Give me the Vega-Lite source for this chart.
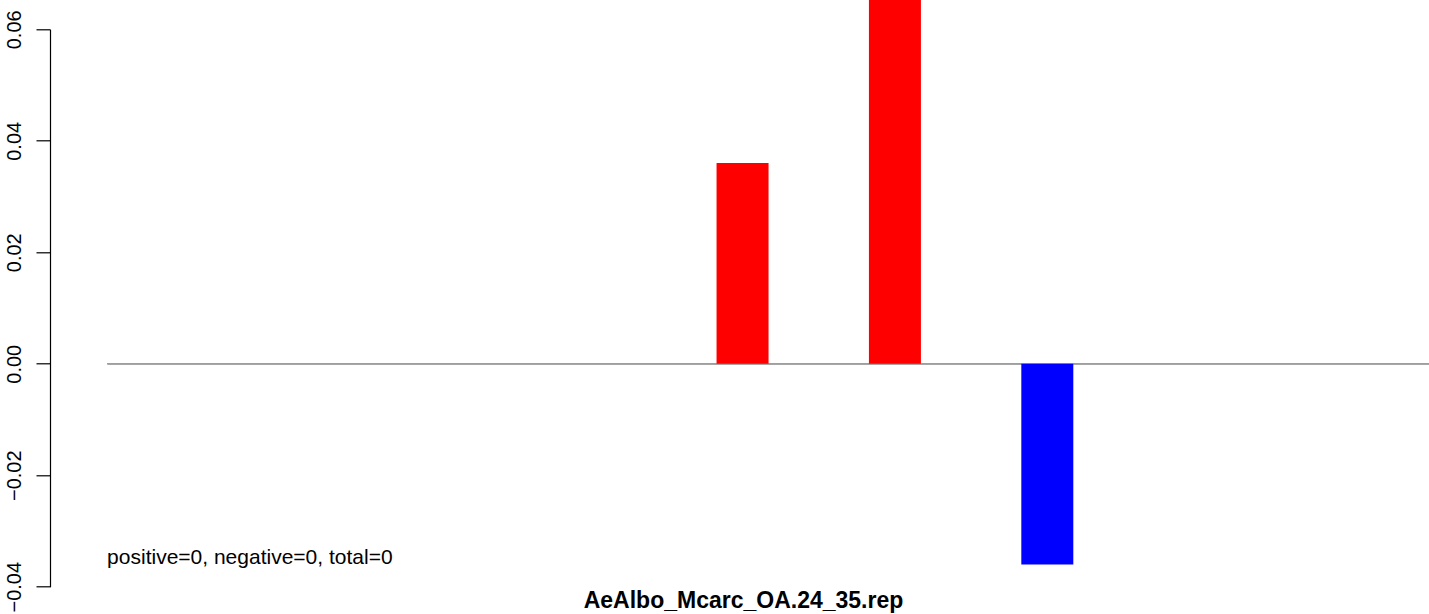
{
  "$schema": "https://vega.github.io/schema/vega-lite/v6.json",
  "autosize": {"type": "none"},
  "padding": {"left": 50, "top": 29.3, "right": 0, "bottom": 27.3},
  "width": 1379,
  "height": 557.4,
  "background": "white",
  "config": {
    "view": {"stroke": null},
    "font": "Liberation Sans"
  },
  "datasets": {
    "bars": [
      {"bar": 1, "value": 0},
      {"bar": 2, "value": 0},
      {"bar": 3, "value": 0},
      {"bar": 4, "value": 0},
      {"bar": 5, "value": 0.036},
      {"bar": 6, "value": 0.072},
      {"bar": 7, "value": -0.036},
      {"bar": 8, "value": 0},
      {"bar": 9, "value": 0}
    ],
    "note": [
      {"label": "positive=0, negative=0, total=0", "x": 0.83, "y": -0.0348}
    ]
  },
  "layer": [
    {
      "data": {"name": "bars"},
      "mark": {"type": "rule", "color": "#9e9e9e", "strokeWidth": 1.2},
      "encoding": {
        "x": {"datum": 0.833, "type": "quantitative"},
        "x2": {"datum": 10},
        "y": {"datum": 0, "type": "quantitative"}
      }
    },
    {
      "data": {"name": "bars"},
      "mark": {"type": "bar", "width": 52},
      "encoding": {
        "x": {
          "field": "bar",
          "type": "quantitative",
          "scale": {"domain": [0.488, 9.472], "nice": false, "zero": false},
          "axis": {
            "title": "AeAlbo_Mcarc_OA.24_35.rep",
            "titleFontSize": 23,
            "titleFontWeight": "bold",
            "titleColor": "black",
            "titleFont": "Liberation Sans",
            "titleX": 693,
            "titleY": 21,
            "titleBaseline": "alphabetic",
            "domain": false,
            "ticks": false,
            "labels": false,
            "grid": false
          }
        },
        "y": {
          "field": "value",
          "type": "quantitative",
          "scale": {"domain": [-0.04, 0.06], "nice": false, "zero": false},
          "axis": {
            "title": null,
            "values": [-0.04, -0.02, 0, 0.02, 0.04, 0.06],
            "format": ".2f",
            "grid": false,
            "domainColor": "black",
            "domainWidth": 1.2,
            "tickColor": "black",
            "tickWidth": 1.2,
            "tickSize": 14,
            "labelAngle": -90,
            "labelAlign": "center",
            "labelBaseline": "alphabetic",
            "labelPadding": 16,
            "labelFontSize": 20,
            "labelColor": "black",
            "labelFont": "Liberation Sans"
          }
        },
        "color": {
          "condition": {"test": "datum.value > 0", "value": "#ff0000"},
          "value": "#0000ff"
        }
      }
    },
    {
      "data": {"name": "note"},
      "mark": {"type": "text", "align": "left", "baseline": "middle", "fontSize": 21, "color": "black", "font": "Liberation Sans"},
      "encoding": {
        "x": {"field": "x", "type": "quantitative"},
        "y": {"field": "y", "type": "quantitative"},
        "text": {"field": "label"}
      }
    }
  ]
}
